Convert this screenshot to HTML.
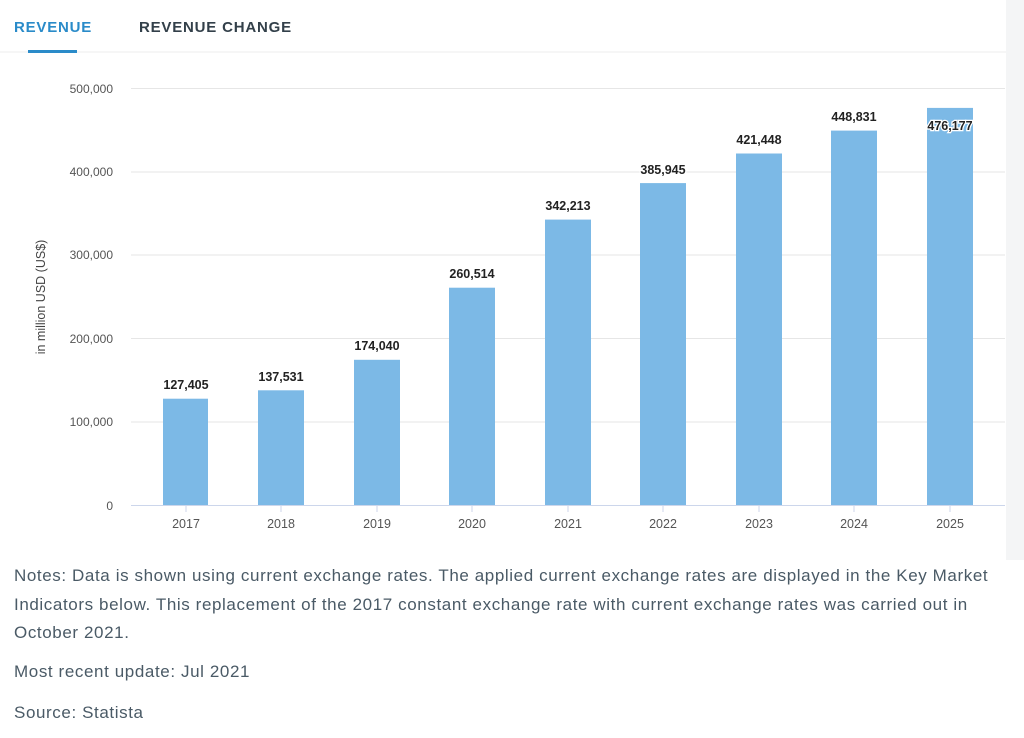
<!DOCTYPE html>
<html><head><style>
body{margin:0;width:1024px;height:738px;background:#fff;overflow:hidden;font-family:"Liberation Sans",sans-serif}
.note{position:absolute;left:14px;color:#4a5a66;font-size:17px;line-height:28.5px;width:1010px;letter-spacing:0.6px;white-space:nowrap}
</style></head><body>
<svg width="1024" height="738" style="position:absolute;left:0;top:0" font-family="Liberation Sans, sans-serif">
<rect x="1006" y="0" width="18" height="560" fill="#f4f5f6"/>
<text x="14" y="32" font-size="15" font-weight="bold" fill="#2a8bc9" letter-spacing="0.8">REVENUE</text>
<text x="139" y="32" font-size="15" font-weight="bold" fill="#33404a" letter-spacing="0.8">REVENUE CHANGE</text>
<line x1="0" y1="52" x2="1006" y2="52" stroke="#eeeeee"/>
<rect x="28" y="50" width="49" height="3" fill="#2a8bc9"/>
<g stroke="#e6e6e6">
<line x1="131" y1="88.5" x2="1005" y2="88.5"/><line x1="131" y1="172" x2="1005" y2="172"/>
<line x1="131" y1="255" x2="1005" y2="255"/><line x1="131" y1="338.5" x2="1005" y2="338.5"/>
<line x1="131" y1="422" x2="1005" y2="422"/></g>
<line x1="131" y1="505.5" x2="1005" y2="505.5" stroke="#ccd6eb"/>
<g font-size="12" fill="#555" text-anchor="end">
<text x="113" y="93">500,000</text><text x="113" y="176">400,000</text><text x="113" y="259">300,000</text>
<text x="113" y="343">200,000</text><text x="113" y="426">100,000</text><text x="113" y="510">0</text></g>
<text transform="translate(45,297) rotate(-90)" font-size="12.5" fill="#444" text-anchor="middle">in million USD (US$)</text>
<g fill="#7cb9e6">
<rect x="163" y="398.7" width="45" height="106.3"/><rect x="258" y="390.3" width="46" height="114.7"/>
<rect x="354" y="359.8" width="46" height="145.2"/><rect x="449" y="287.7" width="46" height="217.3"/>
<rect x="545" y="219.6" width="46" height="285.4"/><rect x="640" y="183.1" width="46" height="321.9"/>
<rect x="736" y="153.5" width="46" height="351.5"/><rect x="831" y="130.6" width="46" height="374.4"/>
<rect x="927" y="107.9" width="46" height="397.1"/></g>
<g stroke="#ccd6eb"><line x1="186" y1="505" x2="186" y2="512"/><line x1="281" y1="505" x2="281" y2="512"/><line x1="377" y1="505" x2="377" y2="512"/><line x1="472" y1="505" x2="472" y2="512"/><line x1="568" y1="505" x2="568" y2="512"/><line x1="663" y1="505" x2="663" y2="512"/><line x1="759" y1="505" x2="759" y2="512"/><line x1="854" y1="505" x2="854" y2="512"/><line x1="950" y1="505" x2="950" y2="512"/></g>
<g font-size="12.5" fill="#555" text-anchor="middle">
<text x="186" y="528">2017</text><text x="281" y="528">2018</text><text x="377" y="528">2019</text><text x="472" y="528">2020</text><text x="568" y="528">2021</text><text x="663" y="528">2022</text><text x="759" y="528">2023</text><text x="854" y="528">2024</text><text x="950" y="528">2025</text></g>
<g font-size="12.5" font-weight="bold" fill="#222" text-anchor="middle" stroke="#fff" stroke-width="2.5" paint-order="stroke">
<text x="186" y="389">127,405</text><text x="281" y="381">137,531</text><text x="377" y="350">174,040</text>
<text x="472" y="278">260,514</text><text x="568" y="210">342,213</text><text x="663" y="174">385,945</text>
<text x="759" y="144">421,448</text><text x="854" y="121">448,831</text><text x="950" y="130">476,177</text></g>
</svg>
<div class="note" style="top:562px">Notes: Data is shown using current exchange rates. The applied current exchange rates are displayed in the Key Market<br>Indicators below. This replacement of the 2017 constant exchange rate with current exchange rates was carried out in<br>October 2021.</div>
<div class="note" style="top:658px">Most recent update: Jul 2021</div>
<div class="note" style="top:699px">Source: Statista</div>
</body></html>
